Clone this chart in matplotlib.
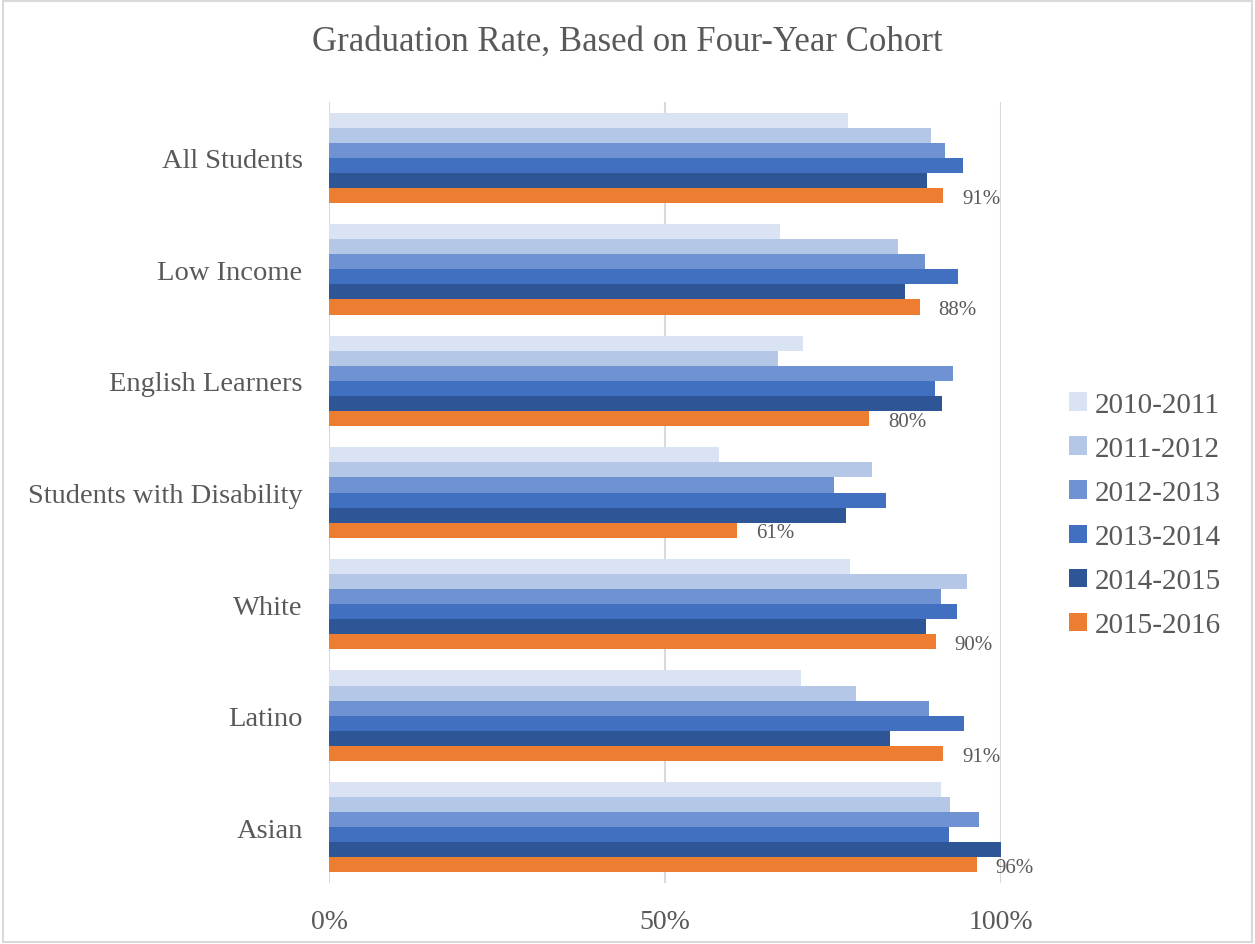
import numpy as np
import matplotlib.pyplot as plt
from matplotlib.patches import Rectangle

categories = ["All Students", "Low Income", "English Learners",
              "Students with Disability", "White", "Latino", "Asian"]
years = ["2010-2011", "2011-2012", "2012-2013", "2013-2014", "2014-2015", "2015-2016"]

y2010 = [77.3, 67.1, 70.6, 58.0, 77.5, 70.2, 91.0]
y2011 = [89.6, 84.6, 66.8, 80.8, 94.9, 78.4, 92.4]
y2012 = [91.6, 88.7, 92.8, 75.1, 91.1, 89.3, 96.8]
y2013 = [94.4, 93.6, 90.2, 82.9, 93.4, 94.5, 92.2]
y2014 = [89.0, 85.7, 91.2, 77.0, 88.8, 83.5, 100.0]
y2015 = [91.4, 87.9, 80.4, 60.7, 90.3, 91.4, 96.4]
series = [y2010, y2011, y2012, y2013, y2014, y2015]

colors = ["#DAE3F3", "#B4C7E7", "#6F93D2", "#4070BF", "#2E5596", "#ED7D31"]
text_color = "#595959"

plt.rcParams["font.family"] = ["Liberation Serif", "DejaVu Serif"]

fig = plt.figure(figsize=(12.55, 9.45), dpi=100)
fig.patches.append(Rectangle((0.002, 0.002), 0.996, 0.996, transform=fig.transFigure,
                             fill=False, edgecolor="#D9D9D9", linewidth=1.5))
ax = fig.add_axes([329 / 1255, 1 - 884 / 945, (1001 - 329) / 1255, (884 - 103) / 945])

y = np.arange(len(categories))
h = 0.135
for i, (vals, col, lab) in enumerate(zip(series, colors, years)):
    pos = y - 2.5 * h + i * h
    ax.barh(pos, vals, height=h, color=col, label=lab, zorder=3)
    if i == len(series) - 1:
        for p, v in zip(pos, vals):
            ax.text(v + 2.8, p + 0.025, f"{v:.0f}%", va="center", ha="left",
                    fontsize=15, color=text_color)

ax.set_xlim(0, 100)
ax.set_ylim(len(categories) - 0.5, -0.5)
ax.set_yticks(y)
ax.set_yticklabels(categories, fontsize=20.5, color=text_color)
ax.set_xticks([0, 50, 100])
ax.set_xticklabels(["0%", "50%", "100%"], fontsize=20, color=text_color)
ax.tick_params(axis="both", length=0)
ax.tick_params(axis="x", pad=18.5)
ax.tick_params(axis="y", pad=19)
ax.grid(axis="x", color="#D9D9D9", linewidth=1.5, zorder=0)
for s in ax.spines.values():
    s.set_visible(False)

fig.text(0.5, 1 - 42 / 945, "Graduation Rate, Based on Four-Year Cohort", ha="center",
         va="center", fontsize=25, color=text_color)

leg = fig.legend(loc="center left", bbox_to_anchor=(1069 / 1255, 1 - 516 / 945),
                 frameon=False, fontsize=21, handlelength=0.6, handleheight=0.6,
                 handletextpad=0.3, labelspacing=0.62, borderpad=0, borderaxespad=0)
for t in leg.get_texts():
    t.set_color(text_color)

fig.savefig("out.png", dpi=100)
